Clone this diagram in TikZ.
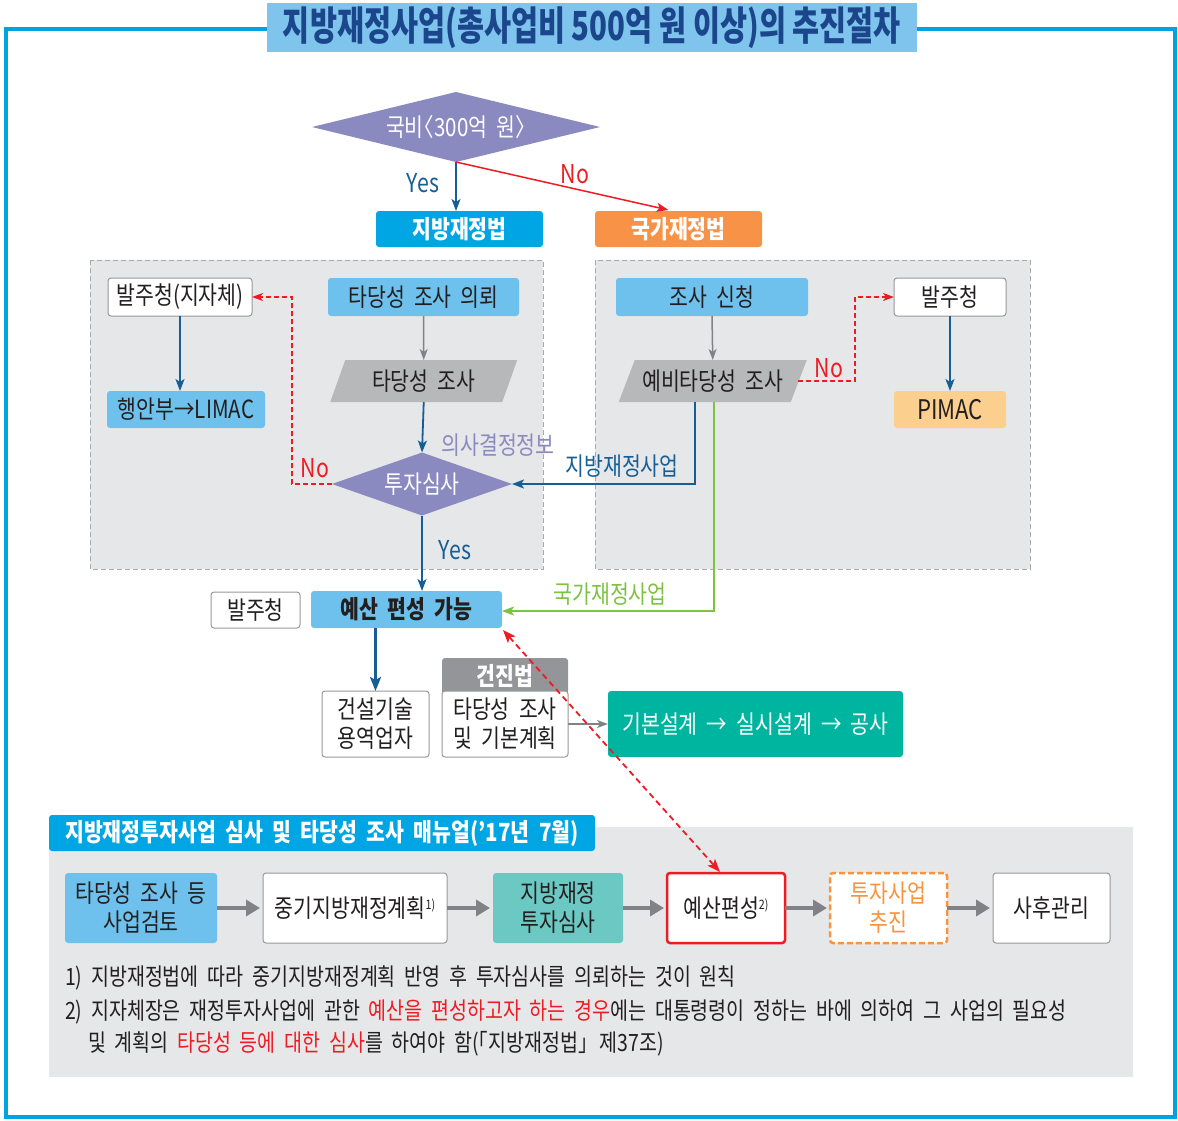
\documentclass[tikz,border=0pt]{standalone}
\usepackage{fontspec}
\setmainfont{Noto Sans CJK KR}[FakeStretch=0.82,WordSpace=2]
\newfontfamily\titlefont{Noto Sans CJK KR}[FakeStretch=0.735]
\usetikzlibrary{arrows.meta,calc}
\definecolor{framec}{RGB}{0,163,224}
\definecolor{titlefill}{RGB}{127,196,236}
\definecolor{titletext}{RGB}{27,70,140}
\definecolor{dpurple}{RGB}{138,137,192}
\definecolor{dblue}{RGB}{22,94,148}
\definecolor{dred}{RGB}{237,28,36}
\definecolor{bbox}{RGB}{0,165,227}
\definecolor{obox}{RGB}{247,146,70}
\definecolor{lblue}{RGB}{110,193,236}
\definecolor{panelgray}{RGB}{230,231,233}
\definecolor{dashgray}{RGB}{167,169,172}
\definecolor{paragray}{RGB}{183,184,186}
\definecolor{peach}{RGB}{251,207,142}
\definecolor{dgreen}{RGB}{125,194,66}
\definecolor{teal1}{RGB}{0,181,160}
\definecolor{hgray}{RGB}{147,149,152}
\definecolor{lteal}{RGB}{108,200,195}
\definecolor{txt}{RGB}{35,31,32}
\definecolor{agray}{RGB}{128,130,133}
\definecolor{bgray}{RGB}{150,152,155}
\definecolor{dorange}{RGB}{247,148,60}
\newcommand\lbl{\fontsize{25}{29}\selectfont}
\newcommand\fnt{\fontsize{23.8}{27}\selectfont}
\newcommand\sups[1]{\raisebox{8pt}{\fontsize{13}{13}\selectfont #1}}
\pgfdeclarelayer{back}
\pgfdeclarelayer{bg}
\pgfsetlayers{back,bg,main}
\tikzset{
  every node/.style={inner sep=0pt, outer sep=0pt, font=\lbl, text=txt},
  rbox/.style={rounded corners=3pt, minimum height=37pt},
  wbox/.style={rbox, draw=bgray, fill=white, line width=1pt},
  panel/.style={fill=panelgray, draw=dashgray, dash pattern=on 5pt off 3pt, line width=1pt},
  barrow/.style={draw=dblue, line width=1.8pt, -{Stealth[length=12pt,width=9pt,inset=3pt]}},
  garrow/.style={draw=agray, line width=1.5pt, -{Stealth[length=11pt,width=8pt,inset=3pt]}},
  rarrow/.style={draw=dred, line width=1.5pt, dash pattern=on 5pt off 3pt, -{Stealth[length=11pt,width=8pt,inset=3pt]}},
  rowarrow/.style={draw=agray, line width=4pt, shorten >=3pt, -{Triangle[length=14pt,width=16pt]}},
  lab/.style={font=\fontsize{26}{30}\selectfont},
}
\begin{document}
\begin{tikzpicture}[x=1pt,y=-1pt]
\useasboundingbox (0,0) rectangle (1178,1120);
\begin{pgfonlayer}{back}
  \draw[framec, line width=3.5pt] (6,29) rectangle (1175,1117);
  \path[panel] (90,260) rectangle (543,569);
  \path[panel] (595,260) rectangle (1030,569);
  \fill[panelgray] (49,827) rectangle (1133,1077);
\end{pgfonlayer}

% title
\node[fill=titlefill, minimum width=650pt, minimum height=49pt, font=\titlefont\bfseries\fontsize{40}{44}\selectfont, text=titletext] (title) at (592,27.5) {지방재정사업(총사업비 500억 원 이상)의 추진절차};

% top decision
\node[minimum width=288pt, minimum height=70pt, text=white] (d1) at (456,127) {국비\kern-10pt〈300억 원〉\kern-10pt};
\node[rbox, fill=bbox, minimum width=167pt, minimum height=36pt, text=white, font=\lbl\bfseries] (jb) at (459.5,229) {지방재정법};
\node[rbox, fill=obox, minimum width=167pt, minimum height=36pt, text=white, font=\lbl\bfseries] (gk) at (678.5,229) {국가재정법};

% left panel
\node[wbox, minimum width=144pt, minimum height=38pt] (bj1) at (180,297) {발주청(지자체)};
\node[rbox, fill=lblue, minimum width=191pt, minimum height=38pt] (tr) at (423.5,297) {타당성 조사 의뢰};
\node[minimum width=172pt, minimum height=42pt] (tp) at (423.75,381) {타당성 조사};
\node[rbox, fill=lblue, minimum width=158pt, minimum height=37pt] (limac) at (186,409.5) {행안부→LIMAC};
\node[minimum width=180pt, minimum height=63pt, text=white] (d2) at (422,484) {투자심사};

% right panel
\node[rbox, fill=lblue, minimum width=192pt, minimum height=38pt] (js) at (712,297) {조사 신청};
\node[minimum width=172pt, minimum height=42pt] (yp) at (712.75,381) {예비타당성 조사};
\node[wbox, minimum width=112pt, minimum height=38pt] (bj2) at (950,297) {발주청};
\node[rbox, fill=peach, minimum width=112pt, minimum height=37pt, font=\fontsize{27}{30}\selectfont] (pimac) at (950,409.5) {PIMAC};

% middle
\node[wbox, minimum width=89pt, minimum height=36pt] (bj3) at (255.5,610) {발주청};
\node[rbox, fill=lblue, minimum width=191pt, minimum height=37pt, font=\lbl\bfseries] (yb) at (406.5,609.5) {예산 편성 가능};
\node[wbox, minimum width=107pt, minimum height=66pt, align=center] (gs) at (375.5,724) {건설기술\\용역업자};
\node[rbox, fill=hgray, minimum width=126pt, minimum height=36pt, text=white, font=\lbl\bfseries, anchor=north] (gj) at (505,658) {\raisebox{3pt}{건진법}};
\node[wbox, minimum width=126pt, minimum height=66pt, align=center] (tk) at (505,724) {타당성 조사\\및 기본계획};
\node[rbox, fill=teal1, minimum width=295pt, minimum height=66pt, text=white] (gong) at (755.5,724) {기본설계 → 실시설계 → 공사};

% bottom panel
\node[rbox, fill=bbox, minimum width=546pt, minimum height=36pt, text=white, font=\fontsize{25}{28}\selectfont\bfseries] (tab) at (322,833) {지방재정투자사업 심사 및 타당성 조사 매뉴얼(’17년 7월)};
\node[rbox, fill=lblue, minimum width=152pt, minimum height=70pt, align=center] (r1) at (141,908) {타당성 조사 등\\사업검토};
\node[wbox, minimum width=184pt, minimum height=70pt] (r2) at (355,908) {중기지방재정계획\sups{1)}};
\node[rbox, fill=lteal, minimum width=130pt, minimum height=70pt, align=center] (r3) at (558,908) {지방재정\\투자심사};
\node[rbox, draw=dred, fill=white, line width=2.5pt, minimum width=118pt, minimum height=70pt] (r4) at (726,908) {예산편성\sups{2)}};
\node[rbox, draw=dorange, fill=white, line width=2.5pt, dash pattern=on 6pt off 3pt, minimum width=117pt, minimum height=70pt, align=center, text=dorange] (r5) at (888.5,908) {투자사업\\추진};
\node[wbox, minimum width=117pt, minimum height=70pt] (r6) at (1051.5,908) {사후관리};

% footnotes
\node[anchor=west, font=\fnt] (f1) at (65,978) {1) 지방재정법에 따라 중기지방재정계획 반영 후 투자심사를 의뢰하는 것이 원칙};
\node[anchor=west, font=\fnt] (f2) at (65,1012) {2) 지자체장은 재정투자사업에 관한 \textcolor{dred}{예산을 편성하고자 하는 경우}에는 대통령령이 정하는 바에 의하여 그 사업의 필요성};
\node[anchor=west, font=\fnt] (f3) at (88,1044) {및 계획의 \textcolor{dred}{타당성 등에 대한 심사}를 하여야 함(\kern-10pt「지방재정법」\kern2pt 제37조)};

% shapes behind
\begin{pgfonlayer}{bg}
  \fill[dpurple] (d1.west)--(d1.north)--(d1.east)--(d1.south)--cycle;
  \fill[dpurple] (d2.west)--(d2.north)--(d2.east)--(d2.south)--cycle;
  \fill[paragray] ($(tp.north west)+(7.5,0)$) -- ($(tp.north east)+(7.5,0)$) -- ($(tp.south east)+(-7.5,0)$) -- ($(tp.south west)+(-7.5,0)$) -- cycle;
  \fill[paragray] ($(yp.north west)+(8,0)$) -- ($(yp.north east)+(8,0)$) -- ($(yp.south east)+(-8,0)$) -- ($(yp.south west)+(-8,0)$) -- cycle;
\end{pgfonlayer}

% connectors
\draw[barrow] (d1.south) -- (d1.south |- jb.north);
\coordinate (noend) at ($(gk.north)+(-10,-1)$);
\draw[draw=dred, line width=1.5pt, -{Stealth[length=12pt,width=9pt,inset=3pt]}] (d1.south) -- (noend);
\node[lab, text=dblue] (yes1) at (423,183) {Yes};
\node[lab, text=dred] (no1) at (575,174) {No};

\draw[garrow] (tr.south) -- (tp.north);
\draw[barrow] (tp.south) -- (d2.north);
\node[lab, text=dpurple, font=\lbl] (ui) at (498,445) {의사결정정보};
\coordinate (t1) at (292,484);
\draw[rarrow] (d2.west) -- (t1) |- (bj1.east);
\node[lab, text=dred] (no2) at (315,468) {No};
\draw[barrow] (bj1.south) -- (bj1.south |- limac.north);

\draw[garrow] (js.south) -- (yp.north);
\coordinate (t2) at (855,381);
\draw[rarrow] ($(yp.east)+(-1,0)$) -- (t2) |- (bj2.west);
\node[lab, text=dred] (no3) at (829,368) {No};
\draw[barrow] (bj2.south) -- (pimac.north);

\coordinate (yps1) at ($(yp.south)+(-17.5,0)$);
\draw[dblue, line width=1.8pt, -{Stealth[length=12pt,width=9pt,inset=3pt]}] (yps1) |- (d2.east);
\node[lab, text=dblue, font=\lbl] (jjs) at (622,466) {지방재정사업};
\coordinate (yps2) at ($(yp.south)+(1.5,0)$);
\draw[dgreen, line width=1.8pt, -{Stealth[length=12pt,width=9pt,inset=3pt]}] (yps2) |- ($(yb.east)+(0,1.5)$);
\node[lab, text=dgreen, font=\lbl] (gjs) at (610,594) {국가재정사업};

\draw[barrow] (d2.south) -- (d2.south |- yb.north);
\node[lab, text=dblue] (yes2) at (455,550) {Yes};
\draw[draw=dblue, line width=2.5pt, -{Stealth[length=14pt,width=11pt,inset=3pt]}] (gs.north |- yb.south) -- (gs.north);
\draw[garrow] (tk.east) -- (gong.west);

\draw[draw=dred, line width=1.8pt, dash pattern=on 6pt off 4pt, {Stealth[length=13pt,width=10pt,inset=3pt]}-{Stealth[length=13pt,width=10pt,inset=3pt]}] ($(yb.south east)+(1,2)$) -- ($(r4.north)+(-6,-1)$);

\draw[rowarrow] (r1.east) -- (r2.west);
\draw[rowarrow] (r2.east) -- (r3.west);
\draw[rowarrow] (r3.east) -- (r4.west);
\draw[rowarrow] (r4.east) -- (r5.west);
\draw[rowarrow] (r5.east) -- (r6.west);
\end{tikzpicture}
\end{document}
